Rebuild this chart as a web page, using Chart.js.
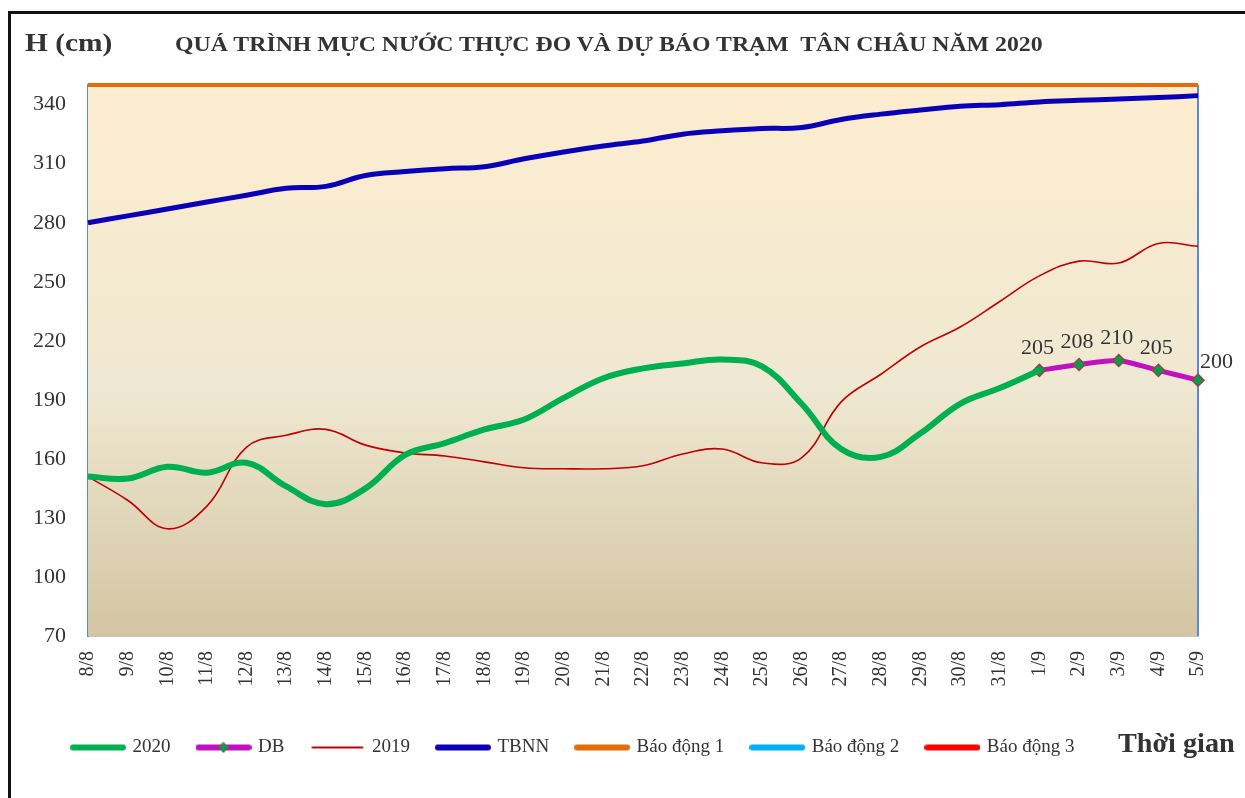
<!DOCTYPE html>
<html>
<head>
<meta charset="utf-8">
<script src="https://cdn.jsdelivr.net/npm/chart.js@4.4.1/dist/chart.umd.min.js"></script>
<style>
    body { margin: 0; background: #fff; }
    .wrap { position: relative; width: 1245px; height: 798px; overflow: hidden; }
    .frame { position: absolute; left: 8px; top: 11px; width: 1300px; height: 900px; border-left: 3px solid #111; border-top: 3px solid #111; }
    .txt { position: absolute; font-family: "Liberation Serif", "Times New Roman", serif; font-weight: bold; color: #333; white-space: nowrap; transform-origin: left center; }
    #ylab { left: 25px; top: 29px; font-size: 25px; }
    #title { left: 175px; top: 33px; font-size: 20px; }
    #xlab { left: 1118px; top: 728px; font-size: 27px; }
    canvas { position: absolute; left: 0; top: 0; }
</style>
</head>
<body>
<div class="wrap">
    <div class="frame"></div>
    <canvas id="mucnuoc" width="1245" height="798"></canvas>
    <div class="txt" id="ylab">H (cm)</div>
    <div class="txt" id="title">QUÁ TRÌNH MỰC NƯỚC THỰC ĐO VÀ DỰ BÁO TRẠM&nbsp; TÂN CHÂU NĂM 2020</div>
    <div class="txt" id="xlab">Thời gian</div>
</div>
<script>
let dates = ["8/8", "9/8", "10/8", "11/8", "12/8", "13/8", "14/8", "15/8", "16/8", "17/8", "18/8", "19/8", "20/8", "21/8",
    "22/8", "23/8", "24/8", "25/8", "26/8", "27/8", "28/8", "29/8", "30/8", "31/8", "1/9", "2/9", "3/9", "4/9", "5/9"]

let h2020 = [151, 150, 156, 153, 158, 146, 137, 145, 162, 168, 175, 180, 191, 201,
    206, 208.5, 210.5, 207, 188, 165, 161, 173, 188, 196, 205, null, null, null, null]

let hDB = [null, null, null, null, null, null, null, null, null, null, null, null, null, null,
    null, null, null, null, null, null, null, null, null, null, 205, 208, 210, 205, 200]

let h2019 = [151, 139, 124.5, 136, 166, 172, 175, 167, 163, 161.5, 158.5, 155.5, 155, 155,
    156.5, 162.5, 165, 158, 160.5, 189, 203, 217, 227, 240, 253, 260.5, 259.5, 269.5, 268]

let tbnn = [280, 283.5, 287, 290.5, 294, 297.5, 298.5, 304, 306, 307.5, 308.5, 312.5, 316, 319,
    321.5, 325, 326.7, 327.9, 328.4, 332.5, 335.2, 337.3, 339.2, 340, 341.4, 342.2, 342.9, 343.6, 344.6]

let bd1 = [350, 350, 350, 350, 350, 350, 350, 350, 350, 350, 350, 350, 350, 350,
    350, 350, 350, 350, 350, 350, 350, 350, 350, 350, 350, 350, 350, 350, 350]

let bd2 = [400, 400, 400, 400, 400, 400, 400, 400, 400, 400, 400, 400, 400, 400,
    400, 400, 400, 400, 400, 400, 400, 400, 400, 400, 400, 400, 400, 400, 400]

let bd3 = [450, 450, 450, 450, 450, 450, 450, 450, 450, 450, 450, 450, 450, 450,
    450, 450, 450, 450, 450, 450, 450, 450, 450, 450, 450, 450, 450, 450, 450]

let yTicks = [70, 100, 130, 160, 190, 220, 250, 280, 310, 340]

const serif = "'Liberation Serif', 'Times New Roman', serif"

// mau legend: ve 1 doan thang (co diem thoi neu can)
function sample(color, width, marker) {
    let c = document.createElement("canvas")
    c.width = 56
    c.height = 14
    let ctx = c.getContext("2d")
    ctx.strokeStyle = color
    ctx.lineWidth = width
    ctx.lineCap = "round"
    ctx.beginPath()
    ctx.moveTo(3, 7)
    ctx.lineTo(53, 7)
    ctx.stroke()
    if (marker) {
        ctx.fillStyle = "#00A050"
        ctx.strokeStyle = "#A04040"
        ctx.lineWidth = 1
        ctx.beginPath()
        ctx.moveTo(28, 2)
        ctx.lineTo(33, 7)
        ctx.lineTo(28, 12)
        ctx.lineTo(23, 7)
        ctx.closePath()
        ctx.fill()
        ctx.stroke()
    }
    return c
}

// nen gradient + vien vung ve
const plotBg = {
    id: "plotBg",
    beforeDatasetsDraw(chart) {
        let { ctx, chartArea: a } = chart
        let g = ctx.createLinearGradient(0, a.top, 0, a.bottom)
        g.addColorStop(0, "#FDEDCF")
        g.addColorStop(0.55, "#EFE8D2")
        g.addColorStop(1, "#D3C5A2")
        ctx.save()
        ctx.fillStyle = g
        ctx.fillRect(a.left, a.top, a.right - a.left, a.bottom - a.top)
        ctx.strokeStyle = "#5B8BCB"
        ctx.lineWidth = 2
        ctx.beginPath()
        ctx.moveTo(a.right, a.top)
        ctx.lineTo(a.right, a.bottom)
        ctx.stroke()
        ctx.restore()
    }
}

// nhan gia tri du bao
const dbLabels = {
    id: "dbLabels",
    afterDatasetsDraw(chart) {
        let ctx = chart.ctx
        let meta = chart.getDatasetMeta(1)
        ctx.save()
        ctx.font = `22px ${serif}`
        ctx.fillStyle = "#333"
        ctx.textBaseline = "middle"
        meta.data.forEach((pt, i) => {
            if (hDB[i] == null) return
            if (i === hDB.length - 1) {
                ctx.textAlign = "left"
                ctx.fillText(hDB[i], pt.x + 2, pt.y - 18)
            } else {
                ctx.textAlign = "center"
                ctx.fillText(hDB[i], pt.x - 2, pt.y - 22)
            }
        })
        ctx.restore()
    }
}

const legendSamples = [
    sample("#00B050", 6, false),
    sample("#C010C0", 6, true),
    sample("#C00000", 2, false),
    sample("#0A00B8", 6, false),
    sample("#E46C0A", 6, false),
    sample("#00B0F0", 6, false),
    sample("#FF0000", 6, false)
]

new Chart(document.getElementById("mucnuoc"), {
    type: "line",
    data: {
        labels: dates,
        datasets: [
            { label: "2020", data: h2020, borderColor: "#00B050", borderWidth: 6, tension: 0.4, pointRadius: 0 },
            {
                label: "DB", data: hDB, borderColor: "#C010C0", borderWidth: 5, tension: 0.2,
                pointStyle: "rectRot", pointRadius: 6, pointBackgroundColor: "#00A050",
                pointBorderColor: "#A04040", pointBorderWidth: 1.5, clip: false
            },
            { label: "2019", data: h2019, borderColor: "#C00000", borderWidth: 1.6, tension: 0.4, pointRadius: 0 },
            { label: "TBNN", data: tbnn, borderColor: "#0A00B8", borderWidth: 5, tension: 0.4, pointRadius: 0 },
            { label: "Báo động 1", data: bd1, borderColor: "#E46C0A", borderWidth: 4, pointRadius: 0, clip: false },
            { label: "Báo động 2", data: bd2, borderColor: "#00B0F0", borderWidth: 4, pointRadius: 0 },
            { label: "Báo động 3", data: bd3, borderColor: "#FF0000", borderWidth: 4, pointRadius: 0 }
        ]
    },
    options: {
        responsive: false,
        animation: false,
        layout: { padding: { top: 85, left: 45, right: 47, bottom: 31 } },
        scales: {
            x: {
                grid: { display: false },
                border: { display: true, color: "#B7C6DA", width: 2 },
                ticks: {
                    autoSkip: false, maxRotation: 90, minRotation: 90, padding: 7,
                    color: "#333", font: { family: serif, size: 20 }
                },
                afterFit(scale) { scale.height = 74 }
            },
            y: {
                min: 70,
                max: 350,
                grid: { display: false, drawTicks: false },
                border: { display: true, color: "#5B8BCB", width: 2 },
                // mirror + far: nhan can phai, khong bi cat theo be rong truc
                ticks: {
                    mirror: true, crossAlign: "far", padding: -55,
                    color: "#333", font: { family: serif, size: 22 }
                },
                afterBuildTicks(scale) { scale.ticks = yTicks.map(v => ({ value: v })) },
                afterFit(scale) { scale.width = 43 }
            }
        },
        plugins: {
            tooltip: { enabled: false },
            legend: {
                position: "bottom",
                align: "start",
                labels: {
                    usePointStyle: true,
                    pointStyleWidth: 50,
                    padding: 28,
                    color: "#333",
                    font: { family: serif, size: 19 },
                    generateLabels(chart) {
                        let items = Chart.defaults.plugins.legend.labels.generateLabels(chart)
                        items.forEach((it, i) => { it.pointStyle = legendSamples[i] })
                        return items
                    }
                }
            }
        }
    },
    plugins: [plotBg, dbLabels]
})

// co chu cho vua be rong anh goc
function fitWidth(id, w) {
    let el = document.getElementById(id)
    el.style.transform = `scaleX(${w / el.offsetWidth})`
}
fitWidth("title", 868)
fitWidth("ylab", 87)
fitWidth("xlab", 117)
</script>
</body>
</html>
